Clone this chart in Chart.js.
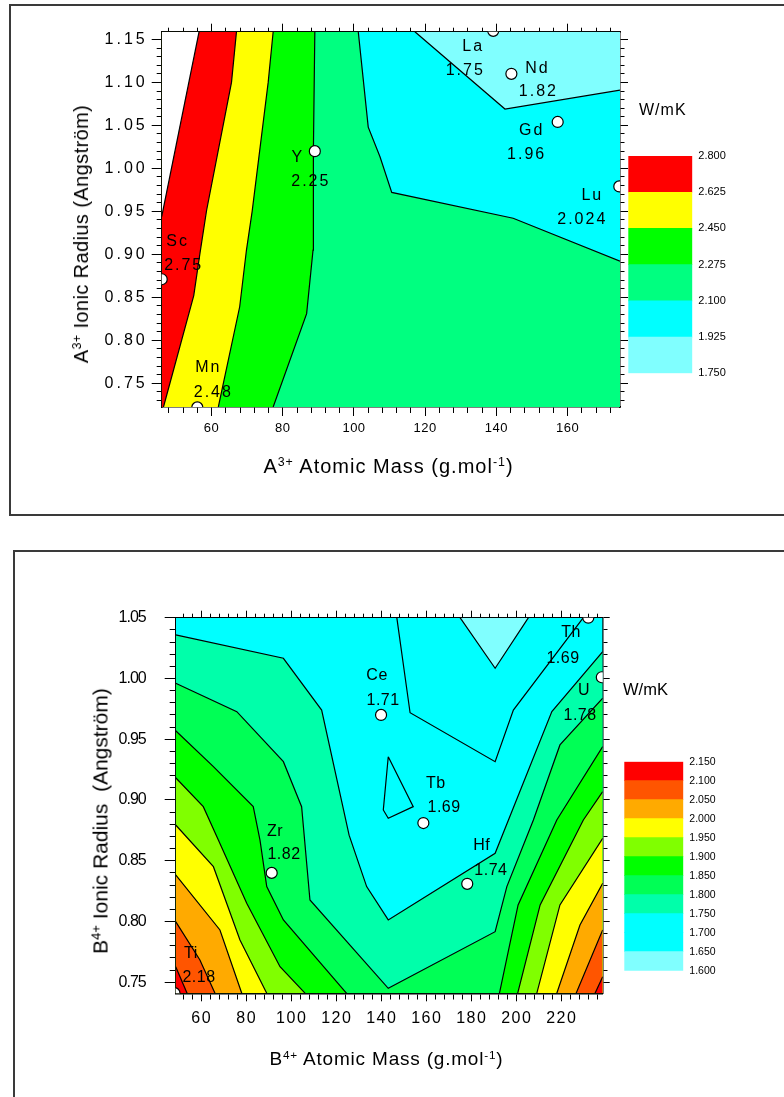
<!DOCTYPE html>
<html lang="en">
<head>
<meta charset="utf-8">
<title>Thermal conductivity maps</title>
<script src="https://cdn.jsdelivr.net/npm/chart.js@4.4.1/dist/chart.umd.min.js"></script>
<style>
  html, body { margin: 0; padding: 0; background: #fff; }
  body { position: relative; width: 784px; height: 1097px; overflow: hidden;
         font-family: "Liberation Sans", Arial, sans-serif; color: #000; }
  .frame { position: absolute; box-sizing: border-box; border: 2px solid #3a3a3a; }
  canvas { position: absolute; }
  .label { position: absolute; white-space: nowrap; line-height: 1; }
  .label sup { font-size: 0.62em; line-height: 0; vertical-align: 0.55em; }
  .rot { transform: translate(-50%, -50%) rotate(-90deg); }
  .mid { transform: translateX(-50%); }
</style>
</head>
<body>
  <div class="frame" style="left:9px; top:4px; width:800px; height:512px;"></div>
  <div class="frame" style="left:13px; top:550px; width:800px; height:600px;"></div>

  <canvas id="chartA" width="784" height="530" style="left:0; top:0;"></canvas>
  <canvas id="barA" width="150" height="250" style="left:620px; top:140px;"></canvas>
  <div class="label" style="left:639px; top:101.5px; font-size:16px; letter-spacing:1px;">W/mK</div>
  <div class="label mid" style="left:388.5px; top:455.8px; font-size:20px; letter-spacing:1px;">A<sup>3+</sup> Atomic Mass (g.mol<sup>-1</sup>)</div>
  <div class="label rot" style="left:81px; top:233.5px; font-size:20px; letter-spacing:0.4px;">A<sup>3+</sup> Ionic Radius (Angström)</div>

  <canvas id="chartB" width="784" height="557" style="left:0; top:540px;"></canvas>
  <canvas id="barB" width="150" height="245" style="left:615px; top:745px;"></canvas>
  <div class="label" style="left:623px; top:681px; font-size:16.5px;">W/mK</div>
  <div class="label mid" style="left:386.5px; top:1049px; font-size:19px; letter-spacing:0.8px;">B<sup>4+</sup> Atomic Mass (g.mol<sup>-1</sup>)</div>
  <div class="label rot" style="left:100px; top:820.5px; font-size:21px;">B<sup>4+</sup> Ionic Radius&nbsp; (Angström)</div>

<script>
Chart.defaults.font.family = '"Liberation Sans", Arial, sans-serif';
Chart.defaults.color = '#000';

// ---------- upper map: A3+ site ----------
const aNames = ['Sc', 'Mn', 'Y', 'La', 'Nd', 'Gd', 'Lu'];
const aMass = [46.0, 56.0, 89.0, 139.1, 144.2, 157.2, 174.5];
const aRadius = [0.871, 0.722, 1.020, 1.160, 1.110, 1.054, 0.979];
const aValues = ['2.75', '2.48', '2.25', '1.75', '1.82', '1.96', '2.024'];
const aMassTicks = [60, 80, 100, 120, 140, 160];
const aRadiusTicks = [0.75, 0.80, 0.85, 0.90, 0.95, 1.00, 1.05, 1.10, 1.15];
const aLevels = [1.750, 1.925, 2.100, 2.275, 2.450, 2.625, 2.800];
const aColours = ['#80ffff', '#00ffff', '#00ff80', '#00ff00', '#ffff00', '#ff0000'];

// contour lines as [mass, radius]
const a2800 = [[46.0, 0.944], [56.5, 1.159]];
const a2625 = [[46.5, 0.7224], [55.0, 0.852], [56.7, 0.900], [58.6, 0.951], [65.6, 1.100], [67.0, 1.159]];
const a2450 = [[61.9, 0.7224], [67.9, 0.839], [69.8, 0.905], [71.4, 0.950], [75.9, 1.100], [77.3, 1.159]];
const a2275 = [[77.3, 0.7224], [86.7, 0.831], [88.5, 0.905], [88.6, 1.020], [89.0, 1.159]];
const a2100 = [[101.2, 1.159], [104.0, 1.048], [107.3, 1.0135], [110.6, 0.972], [144.7, 0.942], [174.7, 0.892]];
const a1925 = [[117.1, 1.159], [142.4, 1.069], [174.7, 1.091]];

// ---------- lower map: B4+ site ----------
const bNames = ['Ti', 'Zr', 'Ce', 'Tb', 'Hf', 'Th', 'U'];
const bMass = [47.9, 91.1, 139.7, 158.5, 178.0, 231.8, 237.8];
const bRadius = [0.741, 0.840, 0.970, 0.881, 0.831, 1.050, 1.001];
const bValues = ['2.18', '1.82', '1.71', '1.69', '1.74', '1.69', '1.78'];
const bMassTicks = [60, 80, 100, 120, 140, 160, 180, 200, 220];
const bRadiusTicks = [0.75, 0.80, 0.85, 0.90, 0.95, 1.00, 1.05];
const bLevels = [1.60, 1.65, 1.70, 1.75, 1.80, 1.85, 1.90, 1.95, 2.00, 2.05, 2.10, 2.15];
const bColours = ['#80ffff', '#00ffff', '#00ffff', '#00ffaa', '#00ff55', '#00ff00',
                  '#80ff00', '#ffff00', '#ffaa00', '#ff5500', '#ff0000'];

const b165 = [[174.8, 1.05], [190.4, 1.0084], [205.2, 1.05]];
const b170 = [[146.7, 1.05], [152.6, 0.9718], [190.4, 0.9315], [198.5, 0.974], [229.6, 1.05]];
const b170Loop = [[142.9, 0.9356], [154.0, 0.8945], [142.9, 0.8849], [140.7, 0.8918], [142.9, 0.9356]];
const b175 = [[48.44, 1.0358], [96.3, 1.0166], [113.3, 0.974], [125.5, 0.871], [133.3, 0.8287],
              [142.9, 0.8013], [190.4, 0.8561], [215.6, 0.9727], [238.2, 1.022]];
const b180 = [[48.44, 0.996], [75.6, 0.9727], [96.3, 0.9315], [104.4, 0.8945], [108.1, 0.8177],
              [142.9, 0.745], [190.4, 0.7916], [195.6, 0.8287], [207.4, 0.8835], [219.2, 0.9453], [238.2, 0.9837]];
const b185L = [[48.44, 0.957], [65.2, 0.9274], [82.9, 0.8945], [85.9, 0.867], [88.9, 0.8287], [96.3, 0.8013], [124.4, 0.7409]];
const b185R = [[192.3, 0.7409], [200.6, 0.8136], [217.8, 0.8835], [238.2, 0.9439]];
const b190L = [[48.44, 0.9183], [60.7, 0.8945], [67.4, 0.867], [80.0, 0.815], [94.8, 0.7628], [106.0, 0.7409]];
const b190R = [[200.4, 0.7409], [210.4, 0.8136], [229.6, 0.8835], [238.2, 0.9068]];
const b195L = [[48.44, 0.8794], [65.2, 0.8451], [77.0, 0.7848], [88.9, 0.7409]];
const b195R = [[208.9, 0.7409], [219.2, 0.8136], [238.2, 0.8685]];
const b200L = [[48.44, 0.8383], [68.1, 0.793], [77.8, 0.7409]];
const b200R = [[217.8, 0.7409], [228.1, 0.7971], [238.2, 0.8315]];
const b205L = [[48.44, 0.7999], [59.2, 0.7683], [65.9, 0.7409]];
const b205R = [[226.4, 0.7409], [232.6, 0.7683], [238.2, 0.793]];
const b210L = [[48.44, 0.7628], [53.5, 0.7409]];
const b210R = [[234.8, 0.7409], [238.2, 0.7546]];

// ---------- helpers ----------
const toPoints = line => line.map(([x, y]) => ({x, y}));

function tickValues(min, max, step) {
  const out = [];
  for (let k = Math.ceil(min / step - 1e-6); k * step <= max + 1e-6; k++) out.push(+(k * step).toFixed(4));
  return out;
}

// canvas letter spacing for one axis' tick labels (the scanned labels are spread out)
function spaceLabels(spacing) {
  return scale => {
    const base = Object.getPrototypeOf(scale).drawLabels;
    scale.drawLabels = function (area) {
      this.ctx.save();
      this.ctx.letterSpacing = spacing;
      base.call(this, area);
      this.ctx.restore();
    };
  };
}

// linear axis with long major ticks and short minor ticks
function axis(position, min, max, majors, minorStep, o) {
  const isMajor = v => majors.some(m => Math.abs(m - v) < 1e-9);
  // on left/top the tick line starts at its outer end, so the minor dash needs a lead-in gap
  const lead = position === 'left' || position === 'top';
  const minorDash = lead ? [0, o.major - o.minor, o.minor, 40] : [o.minor, 40];
  return {
    type: 'linear', position, min, max,
    afterBuildTicks: s => { s.ticks = tickValues(min, max, minorStep).map(v => ({value: v})); },
    afterFit: s => { if (s.isHorizontal()) s.height = o.size; else s.width = o.size; },
    afterUpdate: o.spacing ? spaceLabels(o.spacing) : undefined,
    ticks: {
      display: !!o.font, autoSkip: false, maxRotation: 0, minRotation: 0,
      padding: o.padding || 0, color: '#000', font: o.font,
      callback: v => isMajor(v) ? v.toFixed(o.decimals) : ''
    },
    grid: {
      drawOnChartArea: false, drawTicks: true, tickLength: o.major, tickColor: '#000', tickWidth: 1,
      tickBorderDash: c => (c.tick && !isMajor(c.tick.value)) ? minorDash : []
    },
    border: {display: true, color: '#000', width: 1.5}
  };
}

function fillSet(line, colour, side, order) {
  return {data: toPoints(line), backgroundColor: colour, borderWidth: 0, pointRadius: 0,
          fill: side, order, clip: 0};
}

function lineSet(line) {
  return {data: toPoints(line), borderColor: '#000', borderWidth: 1.2, pointRadius: 0,
          fill: false, order: 10, clip: 0};
}

function markerSet(xs, ys) {
  return {data: xs.map((x, i) => ({x, y: ys[i]})), showLine: false, pointRadius: 5.5,
          pointBackgroundColor: '#fff', pointBorderColor: '#000', pointBorderWidth: 1.2,
          order: 0, clip: 0};
}

// element name and conductivity written next to each marker
function elementLabels(names, xs, ys, values, offsets, font, spacing) {
  return {
    id: 'elementLabels',
    afterDatasetsDraw(chart) {
      const {ctx, scales: {x, y}} = chart;
      ctx.save();
      ctx.font = font;
      ctx.letterSpacing = spacing;
      ctx.fillStyle = '#000';
      ctx.textAlign = 'center';
      ctx.textBaseline = 'middle';
      names.forEach((name, i) => {
        const px = x.getPixelForValue(xs[i]);
        const py = y.getPixelForValue(ys[i]);
        const [nx, ny, vx, vy] = offsets[i];
        ctx.fillText(name, px + nx, py + ny);
        ctx.fillText(values[i], px + vx, py + vy);
      });
      ctx.restore();
    }
  };
}

function colourBar(id, edges, colours, padding, fontSize) {
  return new Chart(document.getElementById(id), {
    type: 'bar',
    data: {
      labels: [''],
      datasets: colours.map((c, i) => ({
        data: [[edges[i], edges[i + 1]]], backgroundColor: c, borderWidth: 0,
        barPercentage: 1, categoryPercentage: 1, grouped: false
      }))
    },
    options: {
      responsive: false, animation: false, events: [],
      layout: {padding},
      plugins: {legend: {display: false}, tooltip: {enabled: false}},
      scales: {
        x: {display: false},
        y: {
          position: 'right', min: edges[0], max: edges[edges.length - 1],
          afterBuildTicks: s => { s.ticks = edges.map(v => ({value: v})); },
          afterFit: s => { s.width = 50; },
          grid: {display: false, drawTicks: false},
          border: {display: false},
          ticks: {padding: 6, autoSkip: false, color: '#000', font: {size: fontSize},
                  callback: v => v.toFixed(3)}
        }
      }
    }
  });
}

// ---------- upper map ----------
const aX = [46, 174.7];
const aY = [0.7224, 1.159];
const aCorner = [aX[0], aY[0]];

const aFills = [
  [[aCorner, [aX[1], aY[0]]], aColours[2]],
  [[aCorner, ...a2275], aColours[3]],
  [[aCorner, ...a2450], aColours[4]],
  [[aCorner, ...a2625], aColours[5]],
  [a2800, '#ffffff'],
  [a2100, aColours[1]],
  [a1925, aColours[0]]
].map(([line, colour], i) => fillSet(line, colour, 'end', 1000 - i));

new Chart(document.getElementById('chartA'), {
  type: 'line',
  data: {
    datasets: [
      ...aFills,
      ...[a2800, a2625, a2450, a2275, a2100, a1925].map(lineSet),
      markerSet(aMass, aRadius)
    ]
  },
  options: {
    responsive: false, animation: false, events: [],
    layout: {padding: {left: 0, top: 19.7, right: 149, bottom: 83}},
    plugins: {legend: {display: false}, tooltip: {enabled: false}},
    scales: {
      x: axis('bottom', aX[0], aX[1], aMassTicks, 4,
        {size: 40, font: {size: 13}, padding: 5, decimals: 0, major: 9, minor: 5.5, spacing: '0.5px'}),
      x2: axis('top', aX[0], aX[1], aMassTicks, 4, {size: 12, major: 8, minor: 4}),
      y: axis('left', aY[0], aY[1], aRadiusTicks, 0.01,
        {size: 161.7, font: {size: 16}, padding: 4, decimals: 2, major: 10, minor: 5, spacing: '3px'}),
      y2: axis('right', aY[0], aY[1], aRadiusTicks, 0.01, {size: 15, major: 8, minor: 4})
    }
  },
  plugins: [elementLabels(aNames, aMass, aRadius, aValues,
    [[16, -38, 22, -14], [11, -40, 16, -14.5], [-17, 6, -4, 30], [-20, 16, -28, 40],
     [26, -5, 27, 18], [-26, 9, -31, 33], [-27, 9, -37, 33]],
    '16px "Liberation Sans", Arial, sans-serif', '2px')]
});

colourBar('barA', aLevels, aColours, {left: 8.3, top: 16, right: 27.7, bottom: 16.7}, 11);

// ---------- lower map ----------
const bX = [48.44, 238.2];
const bY = [0.7409, 1.05];

const bFills = [
  [[[bX[0], bY[0]], [bX[1], bY[0]]], bColours[1], 'end'],
  [b165, bColours[0], 'end'],
  [b175, bColours[3], 'start'],
  [b180, bColours[4], 'start'],
  [b185L, bColours[5], 'start'], [b185R, bColours[5], 'start'],
  [b190L, bColours[6], 'start'], [b190R, bColours[6], 'start'],
  [b195L, bColours[7], 'start'], [b195R, bColours[7], 'start'],
  [b200L, bColours[8], 'start'], [b200R, bColours[8], 'start'],
  [b205L, bColours[9], 'start'], [b205R, bColours[9], 'start'],
  [b210L, bColours[10], 'start'], [b210R, bColours[10], 'start']
].map(([line, colour, side], i) => fillSet(line, colour, side, 1000 - i));

new Chart(document.getElementById('chartB'), {
  type: 'line',
  data: {
    datasets: [
      ...bFills,
      ...[b165, b170, b170Loop, b175, b180, b185L, b185R, b190L, b190R, b195L, b195R,
          b200L, b200R, b205L, b205R, b210L, b210R].map(lineSet),
      markerSet(bMass, bRadius)
    ]
  },
  options: {
    responsive: false, animation: false, events: [],
    layout: {padding: {left: 0, top: 67.7, right: 169.3, bottom: 53.7}},
    plugins: {legend: {display: false}, tooltip: {enabled: false}},
    scales: {
      x: axis('bottom', bX[0], bX[1], bMassTicks, 4,
        {size: 50, font: {size: 16}, padding: 8, decimals: 0, major: 8, minor: 5, spacing: '1.5px'}),
      x2: axis('top', bX[0], bX[1], bMassTicks, 4, {size: 10, major: 7, minor: 4}),
      y: axis('left', bY[0], bY[1], bRadiusTicks, 0.01,
        {size: 175.7, font: {size: 16}, padding: 19, decimals: 2, major: 11, minor: 6, spacing: '-1px'}),
      y2: axis('right', bY[0], bY[1], bRadiusTicks, 0.01, {size: 12, major: 7, minor: 4})
    }
  },
  plugins: [elementLabels(bNames, bMass, bRadius, bValues,
    [[16.5, -39.3, 24.5, -15.8], [3.3, -41.7, 12.3, -18.7], [-4, -39, 2, -14], [12.5, -39.3, 20.7, -15.8],
     [14.4, -38, 23.7, -13], [-17.3, 15.3, -25.3, 41.3], [-17.7, 13.7, -21.7, 38.7]],
    '16px "Liberation Sans", Arial, sans-serif', '0.5px')]
});

colourBar('barB', bLevels, bColours, {left: 9.3, top: 16.7, right: 31.7, bottom: 19.3}, 10.5);
</script>
</body>
</html>
